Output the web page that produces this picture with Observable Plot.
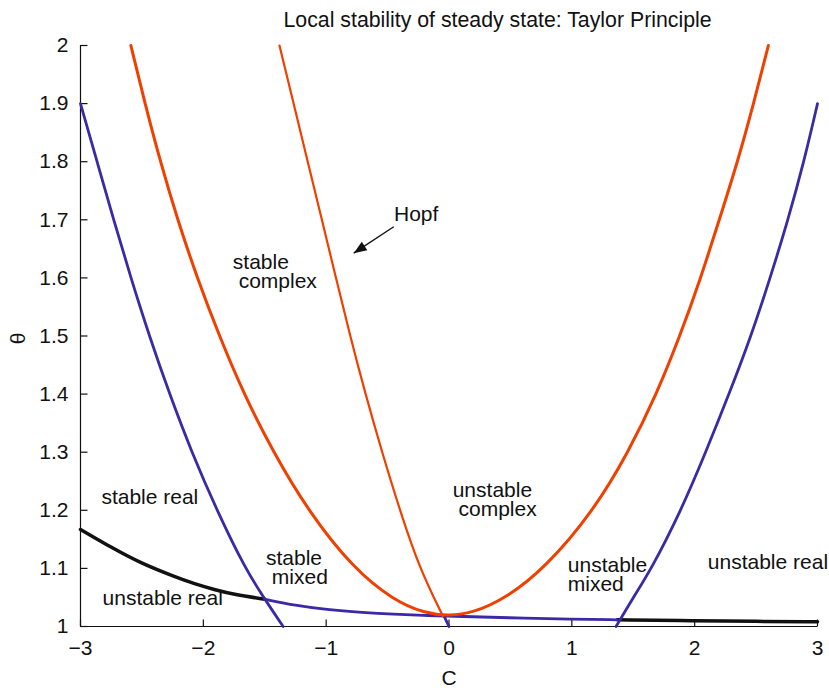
<!DOCTYPE html>
<html><head><meta charset="utf-8">
<script src="https://cdn.jsdelivr.net/npm/d3@7"></script>
<script src="https://cdn.jsdelivr.net/npm/@observablehq/plot@0.6"></script>
<style>html,body{margin:0;padding:0;background:#fff}#chart svg{display:block}</style>
</head><body><div id="chart"></div>
<script>
const title = "Local stability of steady state: Taylor Principle";
const xLabel = "C";
const yLabel = "θ";
const xTicks = [-3, -2, -1, 0, 1, 2, 3];
const yTicks = [1, 1.1, 1.2, 1.3, 1.4, 1.5, 1.6, 1.7, 1.8, 1.9, 2];

// black boundary (left part)
const blackLeftC = [-3, -2.75, -2.51, -2.25, -2.07, -1.9, -1.75, -1.5];
const blackLeftTheta = [1.167, 1.136, 1.109, 1.087, 1.073, 1.063, 1.055, 1.047];
// black boundary (right part)
const blackRightC = [1.37, 2, 2.5, 3];
const blackRightTheta = [1.0115, 1.0098, 1.0088, 1.008];
// blue near-flat boundary
const blueFlatC = [-1.5, -1.25, -1, -0.7, -0.45, -0.2, 0, 0.48, 1.02, 1.37];
const blueFlatTheta = [1.047, 1.036, 1.029, 1.024, 1.021, 1.019, 1.018, 1.015, 1.0126, 1.0115];
// blue steep boundary (left)
const blueLeftC = [-3, -2.865, -2.73, -2.59, -2.44, -2.275, -2.095, -1.89, -1.66, -1.5, -1.35];
const blueLeftTheta = [1.9, 1.8, 1.7, 1.6, 1.5, 1.4, 1.3, 1.2, 1.1, 1.047, 1.0];
// blue steep boundary (right)
const blueRightC = [1.36, 1.5, 1.65, 1.89, 2.09, 2.28, 2.46, 2.615, 2.76, 2.89, 3.0];
const blueRightTheta = [1.0, 1.05, 1.1, 1.2, 1.3, 1.4, 1.5, 1.6, 1.7, 1.8, 1.9];
// blue short segment at C = 0
const blueShortC = [-0.04, 0];
const blueShortTheta = [1.018, 1.0];
// orange outer (complex / real) boundary
const orangeC = [-2.59, -2.475, -2.35, -2.21, -2.05, -1.87, -1.67, -1.43, -1.15, -0.78, -0.45, -0.2, 0, 0.2, 0.45, 0.78, 1.18, 1.46, 1.69, 1.88, 2.05, 2.2, 2.35, 2.48, 2.6];
const orangeTheta = [2.0, 1.9, 1.8, 1.7, 1.6, 1.5, 1.4, 1.3, 1.2, 1.1, 1.045, 1.023, 1.018, 1.024, 1.047, 1.1, 1.2, 1.3, 1.4, 1.5, 1.6, 1.7, 1.8, 1.9, 2.0];
// orange Hopf boundary
const hopfC = [-1.38, -1.265, -1.15, -1.035, -0.92, -0.805, -0.68, -0.545, -0.4, -0.24, -0.05];
const hopfTheta = [2.0, 1.9, 1.8, 1.7, 1.6, 1.5, 1.4, 1.3, 1.2, 1.1, 1.018];

// region labels
const labelText = ["stable\n\u00a0complex", "stable real", "unstable real", "stable\n\u00a0mixed", "unstable\n\u00a0complex", "unstable\nmixed", "unstable real", "Hopf"];
const labelC = [-1.76, -2.83, -2.82, -1.49, 0.03, 0.967, 2.107, -0.448];
const labelTheta = [1.6095, 1.2216, 1.0466, 1.1002, 1.2169, 1.0881, 1.109, 1.709];

// Hopf arrow
const arrowFrom = [-0.45, 1.688];
const arrowTo = [-0.776, 1.6426];

const pts = (cs, ts) => cs.map((c, i) => ({c, t: ts[i]}));
const labels = labelText.map((s, i) => ({s, c: labelC[i], t: labelTheta[i]}));

const BLUE = "#3a2aa6", ORANGE = "#f04000", BLACK = "#111";
const font = "'Liberation Sans', Arial, Helvetica, sans-serif";

const W = 829, H = 688, ML = 80, MR = 12, MT = 45, MB = 62, TICK = 7;
const frameW = W - ML - MR, frameH = H - MT - MB;
const xDomain = [-3, 3], yDomain = [1, 2];
// tick length converted from pixels into data units via the frame size
const tickDX = TICK * (xDomain[1] - xDomain[0]) / frameW;
const tickDY = TICK * (yDomain[1] - yDomain[0]) / frameH;
// arrowhead direction (screen degrees clockwise from north) from the arrow's data
const pxX = (arrowTo[0] - arrowFrom[0]) * frameW / (xDomain[1] - xDomain[0]);
const pxY = -(arrowTo[1] - arrowFrom[1]) * frameH / (yDomain[1] - yDomain[0]);
const headAngle = Math.atan2(pxX, -pxY) * 180 / Math.PI;

const chart = Plot.plot({
  width: W,
  height: H,
  marginLeft: ML,
  marginRight: MR,
  marginTop: MT,
  marginBottom: MB,
  x: {domain: xDomain},
  y: {domain: yDomain},
  style: {fontFamily: font, fontSize: "21px", background: "#fff", color: "#111"},
  marks: [
    Plot.ruleX([xDomain[0]], {stroke: BLACK, strokeWidth: 1.2}),
    Plot.ruleY([yDomain[0]], {stroke: BLACK, strokeWidth: 1.2}),
    Plot.link(xTicks, {x1: d => d, x2: d => d, y1: () => yDomain[0], y2: () => yDomain[0] + tickDY, stroke: BLACK, strokeWidth: 1.2}),
    Plot.link(yTicks, {y1: d => d, y2: d => d, x1: () => xDomain[0], x2: () => xDomain[0] + tickDX, stroke: BLACK, strokeWidth: 1.2}),
    Plot.axisX({ticks: xTicks, tickSize: 0, tickPadding: 14, tickFormat: "~g", label: null, fontSize: 21}),
    Plot.axisY({ticks: yTicks, tickSize: 0, tickPadding: 12, tickFormat: "~g", label: null, fontSize: 21}),
    Plot.line(pts(blackLeftC, blackLeftTheta), {x: "c", y: "t", stroke: BLACK, strokeWidth: 3.5, curve: "basis"}),
    Plot.line(pts(blackRightC, blackRightTheta), {x: "c", y: "t", stroke: BLACK, strokeWidth: 3.5, curve: "basis"}),
    Plot.line(pts(blueFlatC, blueFlatTheta), {x: "c", y: "t", stroke: BLUE, strokeWidth: 2.8, curve: "basis"}),
    Plot.line(pts(blueLeftC, blueLeftTheta), {x: "c", y: "t", stroke: BLUE, strokeWidth: 2.8, curve: "basis"}),
    Plot.line(pts(blueRightC, blueRightTheta), {x: "c", y: "t", stroke: BLUE, strokeWidth: 2.8, curve: "basis"}),
    Plot.line(pts(blueShortC, blueShortTheta), {x: "c", y: "t", stroke: BLUE, strokeWidth: 2.8}),
    Plot.line(pts(orangeC, orangeTheta), {x: "c", y: "t", stroke: ORANGE, strokeWidth: 3, curve: "basis"}),
    Plot.line(pts(hopfC, hopfTheta), {x: "c", y: "t", stroke: ORANGE, strokeWidth: 2.2, curve: "basis"}),
    Plot.text(labels, {x: "c", y: "t", text: "s", textAnchor: "start", lineAnchor: "middle", lineHeight: 0.9, fill: "#111", fontSize: 21}),
    Plot.link([0], {x1: () => arrowFrom[0], y1: () => arrowFrom[1], x2: () => arrowTo[0], y2: () => arrowTo[1], stroke: BLACK, strokeWidth: 1.4}),
    Plot.vector([0], {x: () => arrowTo[0], y: () => arrowTo[1], rotate: headAngle, length: 13, r: 5, anchor: "end", shape: "spike", fill: BLACK, stroke: "none"}),
    Plot.text([title], {text: d => d, frameAnchor: "top-left", dx: 203, dy: -18.3, textAnchor: "start", lineAnchor: "bottom", fill: "#111", fontSize: 21.3}),
    Plot.text([yLabel], {text: d => d, frameAnchor: "left", dx: -62.5, dy: 2.5, rotate: -90, textAnchor: "middle", lineAnchor: "middle", fill: "#111", fontSize: 21}),
    Plot.text([xLabel], {text: d => d, frameAnchor: "bottom", dy: 51.5, textAnchor: "middle", lineAnchor: "middle", fill: "#111", fontSize: 21})
  ]
});
document.getElementById("chart").appendChild(chart);
</script>
</body></html>
